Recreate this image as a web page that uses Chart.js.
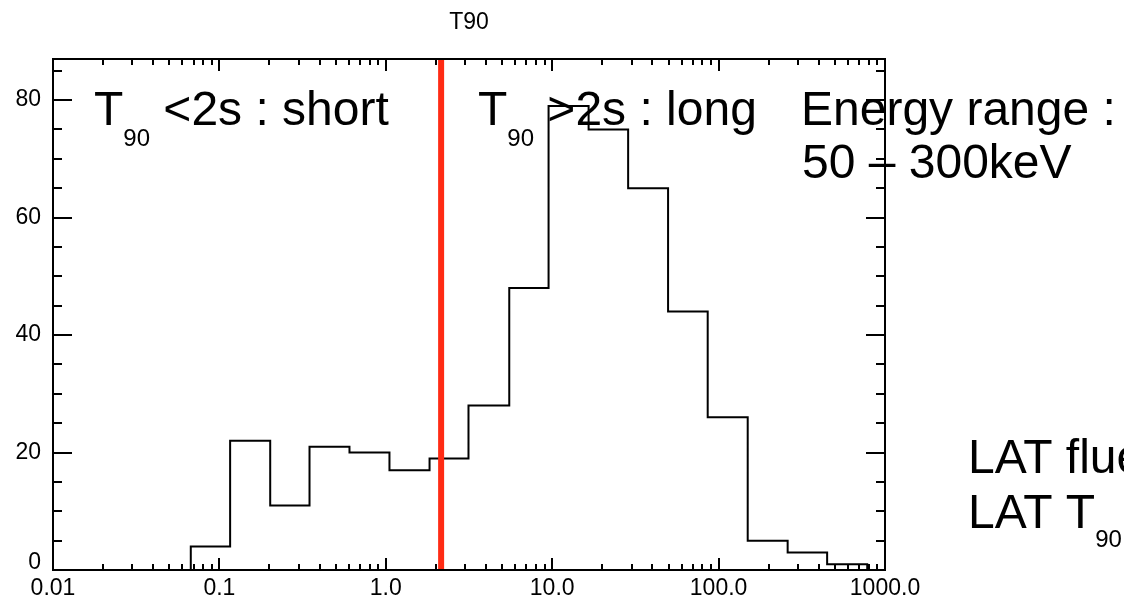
<!DOCTYPE html>
<html>
<head>
<meta charset="utf-8">
<title>T90</title>
<script src="https://cdn.jsdelivr.net/npm/chart.js@4.4.1/dist/chart.umd.min.js"></script>
<style>
  html, body { margin: 0; padding: 0; background: #fff; }
  #wrap { position: relative; width: 1124px; height: 598px; }
</style>
</head>
<body>
<div id="wrap"><canvas id="t90"></canvas></div>
<script>
// T90 distribution, log-spaced bins (seconds)
const BIN_EDGES = [0.0673, 0.116, 0.202, 0.348, 0.605, 1.052, 1.832, 3.14, 5.52, 9.51,
                   16.55, 28.6, 49.7, 86.0, 149.6, 260, 449, 782];
const COUNTS = [4, 22, 11, 21, 20, 17, 19, 28, 48, 79, 75, 65, 44, 26, 5, 3, 1];
const T90_CUT = 2.15;

const X_TICKS = [0.01, 0.1, 1, 10, 100, 1000];
const X_LABELS = ['0.01', '0.1', '1.0', '10.0', '100.0', '1000.0'];
const Y_TICKS = [0, 20, 40, 60, 80];
const Y_MAX = 87;

const FONT = '"Liberation Sans", Arial, Helvetica, sans-serif';
const TICK_SIZE = 23;

// outline points: each point holds its count until the next edge
const histPoints = [{ x: X_TICKS[0], y: 0 }];
COUNTS.forEach((c, i) => histPoints.push({ x: BIN_EDGES[i], y: c }));
histPoints.push({ x: BIN_EDGES[BIN_EDGES.length - 1], y: 0 });
histPoints.push({ x: X_TICKS[X_TICKS.length - 1], y: 0 });

// IDL-style box with inward ticks on all four sides
const frame = {
    id: 'frame',
    afterDatasetsDraw(chart) {
        const { ctx, chartArea: a, scales: { x, y } } = chart;
        ctx.save();
        ctx.strokeStyle = '#000';
        ctx.lineWidth = 2;
        ctx.beginPath();
        const xt = (v, len) => {
            const px = Math.round(x.getPixelForValue(v));
            ctx.moveTo(px, a.bottom); ctx.lineTo(px, a.bottom - len);
            ctx.moveTo(px, a.top); ctx.lineTo(px, a.top + len);
        };
        const yt = (v, len) => {
            const py = Math.round(y.getPixelForValue(v));
            ctx.moveTo(a.left, py); ctx.lineTo(a.left + len, py);
            ctx.moveTo(a.right, py); ctx.lineTo(a.right - len, py);
        };
        X_TICKS.forEach(v => xt(v, 12));
        for (let d = 0; d < X_TICKS.length - 1; d++) {
            for (let m = 2; m <= 9; m++) xt(X_TICKS[d] * m, 6);
        }
        Y_TICKS.forEach(v => yt(v, 19));
        for (let v = 5; v < Y_MAX; v += 5) {
            if (v % 20) yt(v, 9);
        }
        ctx.stroke();
        ctx.strokeRect(a.left, a.top, a.right - a.left, a.bottom - a.top);
        ctx.restore();
    }
};

function drawSubText(ctx, x, y, parts) {
    parts.forEach(([txt, size, drop]) => {
        ctx.font = `${size}px ${FONT}`;
        ctx.fillText(txt, x, y + drop);
        x += ctx.measureText(txt).width;
    });
}

const notes = {
    id: 'notes',
    afterDraw(chart) {
        const ctx = chart.ctx;
        ctx.save();
        ctx.fillStyle = '#000';
        ctx.textBaseline = 'alphabetic';
        ctx.textAlign = 'left';
        drawSubText(ctx, 94, 125, [['T', 48, 0], ['90', 24, 21], [' <2s : short', 48, 0]]);
        drawSubText(ctx, 478, 125, [['T', 48, 0], ['90', 24, 21], [' >2s : long', 48, 0]]);
        ctx.font = `48px ${FONT}`;
        ctx.fillText('Energy range :', 801, 125);
        ctx.fillText('50 \u2013 300keV', 802, 178);
        ctx.fillText('LAT fluence', 968, 473);
        drawSubText(ctx, 968, 528, [['LAT T', 48, 0], ['90', 24, 19]]);
        ctx.restore();
    }
};

Chart.defaults.color = '#000';
Chart.defaults.font.family = FONT;

new Chart(document.getElementById('t90').getContext('2d'), {
    type: 'line',
    data: {
        datasets: [
            {
                label: 'T90',
                data: histPoints,
                stepped: 'before',
                borderColor: '#000',
                borderWidth: 2,
                pointRadius: 0,
                fill: false,
                order: 1
            },
            {
                label: '2 s cut',
                data: [{ x: T90_CUT, y: 0 }, { x: T90_CUT, y: Y_MAX }],
                borderColor: '#ff2b14',
                borderWidth: 6,
                pointRadius: 0,
                order: 0
            }
        ]
    },
    options: {
        responsive: true,
        maintainAspectRatio: false,
        animation: false,
        events: [],
        layout: { padding: { left: 0, top: 0, right: 239, bottom: 0 } },
        plugins: {
            legend: { display: false },
            tooltip: { enabled: false },
            title: {
                display: true,
                text: 'T90',
                fullSize: false,
                color: '#000',
                font: { size: TICK_SIZE, weight: 'normal', lineHeight: 1.2 },
                padding: { top: 8.5, bottom: 22.9 }
            }
        },
        scales: {
            x: {
                type: 'logarithmic',
                min: 0.01,
                max: 1000,
                afterBuildTicks: s => { s.ticks = X_TICKS.map(v => ({ value: v })); },
                afterFit: s => { s.height = 28; },
                ticks: {
                    autoSkip: false,
                    maxRotation: 0,
                    padding: 5,
                    font: { size: TICK_SIZE },
                    callback: (v, i) => X_LABELS[i]
                },
                grid: { display: false, drawTicks: false },
                border: { display: false }
            },
            y: {
                type: 'linear',
                min: 0,
                max: Y_MAX,
                afterBuildTicks: s => { s.ticks = Y_TICKS.map(v => ({ value: v })); },
                afterFit: s => { s.width = 53; },
                ticks: {
                    padding: 12,
                    // the zero label sits a little above its tick, clear of the x labels
                    font: c => ({ size: TICK_SIZE, lineHeight: c.index === 0 ? 0.6 : 1.2 }),
                    callback: v => (v === 0 ? ['0', ''] : String(v))
                },
                grid: { display: false, drawTicks: false },
                border: { display: false }
            }
        }
    },
    plugins: [frame, notes]
});
</script>
</body>
</html>
